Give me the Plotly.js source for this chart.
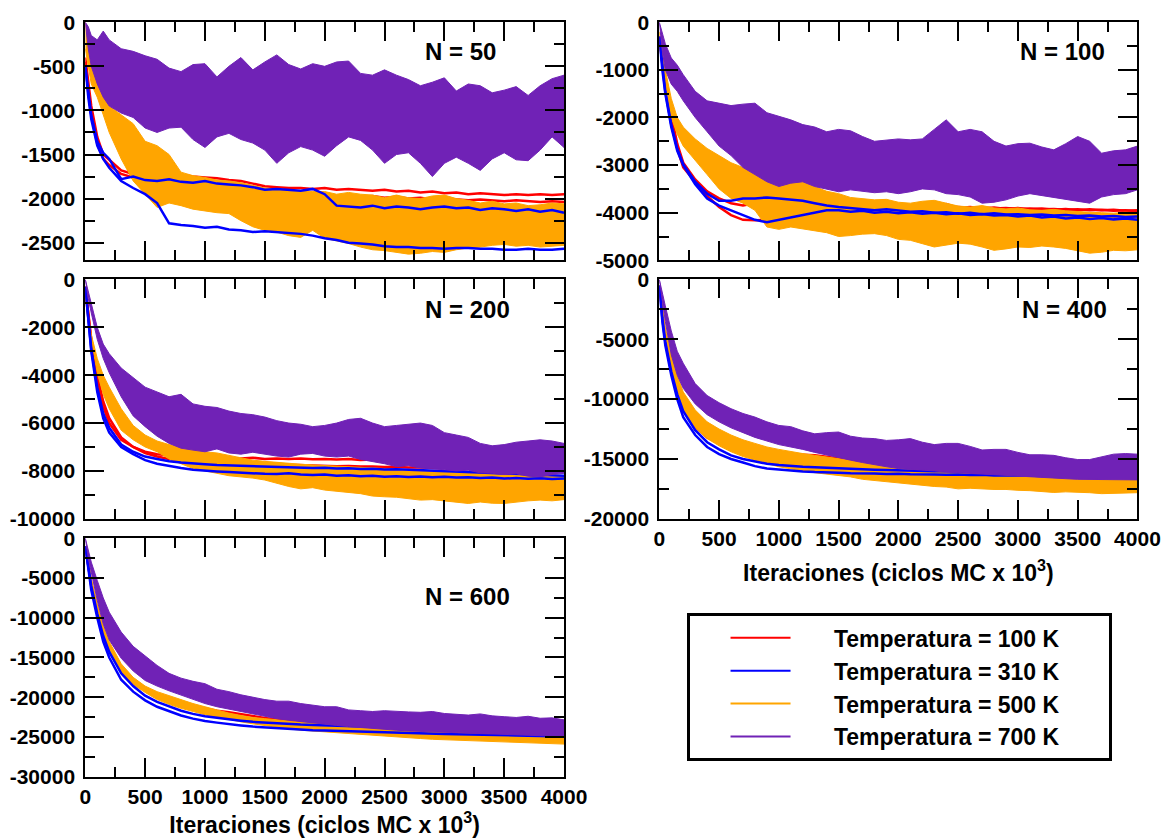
<!DOCTYPE html>
<html>
<head>
<meta charset="utf-8">
<script src="https://cdn.plot.ly/plotly-3.0.1.min.js"></script>
<style>html,body{margin:0;padding:0;background:#fff;}#chart{width:1162px;height:840px;}</style>
</head>
<body>
<div id="chart"></div>
<script>
// ---------- DATA ----------
// Monte Carlo iterations (x 10^3)
const XS = [0,25,50,100,150,200,300,400,500,600,700,800,900,1000,1100,1200,1300,1400,1500,1600,1700,1800,1900,2000,2100,2200,2300,2400,2500,2600,2700,2800,2900,3000,3100,3200,3300,3400,3500,3600,3700,3800,3900,4000];

const TEMPS = ['100 K', '310 K', '500 K', '700 K'];
const PANEL_LABELS = ['N = 50', 'N = 100', 'N = 200', 'N = 400', 'N = 600'];

// Y tick labels of each panel
const Y_TICKS_50  = [0,-500,-1000,-1500,-2000,-2500];
const Y_TICKS_100 = [0,-1000,-2000,-3000,-4000,-5000];
const Y_TICKS_200 = [0,-2000,-4000,-6000,-8000,-10000];
const Y_TICKS_400 = [0,-5000,-10000,-15000,-20000];
const Y_TICKS_600 = [0,-5000,-10000,-15000,-20000,-25000,-30000];

// ---- N = 50 ----
const n50Red1 = [-400,-700,-950,-1300,-1500,-1560,-1680,-1720,-1740,-1700,-1720,-1730,-1750,-1760,-1770,-1790,-1800,-1830,-1860,-1870,-1880,-1880,-1890,-1880,-1900,-1890,-1900,-1910,-1900,-1920,-1910,-1930,-1920,-1940,-1930,-1950,-1940,-1950,-1960,-1950,-1960,-1950,-1960,-1950];
const n50Red2 = [-450,-800,-1050,-1380,-1550,-1620,-1720,-1760,-1780,-1790,-1800,-1820,-1830,-1840,-1850,-1860,-1880,-1900,-1920,-1930,-1940,-1950,-1950,-1960,-1970,-1960,-1980,-1970,-1990,-1980,-2000,-1990,-2010,-2000,-2010,-2020,-2010,-2020,-2030,-2020,-2030,-2040,-2030,-2040];
const n50Blue1 = [-500,-800,-1050,-1350,-1480,-1550,-1780,-1750,-1790,-1800,-1780,-1810,-1820,-1800,-1830,-1840,-1850,-1870,-1900,-1890,-1900,-1910,-1890,-1950,-2080,-2090,-2100,-2080,-2110,-2090,-2100,-2120,-2100,-2090,-2110,-2100,-2130,-2110,-2120,-2140,-2120,-2150,-2130,-2160];
const n50Blue2 = [-500,-850,-1100,-1400,-1550,-1650,-1800,-1880,-1950,-2050,-2280,-2300,-2310,-2330,-2320,-2350,-2360,-2380,-2370,-2380,-2390,-2400,-2420,-2450,-2470,-2500,-2510,-2520,-2540,-2550,-2550,-2560,-2560,-2570,-2560,-2560,-2570,-2570,-2580,-2580,-2570,-2580,-2580,-2570];
const n50OrangeTop = [0,-150,-300,-500,-750,-950,-1050,-1150,-1350,-1400,-1500,-1700,-1740,-1760,-1790,-1800,-1820,-1850,-1880,-1890,-1900,-1910,-1920,-1920,-1950,-1930,-1950,-1960,-1990,-1960,-1990,-2000,-1970,-1960,-2000,-2020,-2050,-2030,-2060,-2050,-2080,-2070,-2050,-2060];
const n50OrangeBot = [-300,-500,-700,-850,-1050,-1250,-1550,-1800,-1950,-2100,-2050,-2080,-2120,-2140,-2160,-2170,-2250,-2320,-2360,-2380,-2420,-2440,-2360,-2450,-2480,-2510,-2550,-2580,-2590,-2610,-2630,-2620,-2600,-2610,-2580,-2560,-2550,-2530,-2520,-2540,-2530,-2550,-2540,-2530];
const n50PurpleTop = [0,-50,-150,-200,-100,-200,-300,-330,-380,-420,-520,-560,-480,-470,-620,-500,-400,-540,-450,-370,-480,-530,-470,-500,-450,-440,-580,-600,-540,-600,-650,-720,-680,-630,-780,-700,-720,-800,-770,-730,-830,-720,-640,-600];
const n50PurpleBot = [0,-300,-500,-700,-850,-950,-1030,-1080,-1200,-1250,-1200,-1190,-1330,-1420,-1300,-1260,-1330,-1370,-1450,-1600,-1480,-1410,-1450,-1520,-1400,-1300,-1340,-1450,-1600,-1500,-1480,-1600,-1750,-1600,-1530,-1600,-1680,-1550,-1480,-1560,-1570,-1450,-1300,-1420];

// ---- N = 100 ----
const n100Red1 = [-300,-900,-1350,-2050,-2650,-3050,-3350,-3650,-3880,-4050,-4150,-4160,-4150,-4100,-4050,-4000,-3980,-3950,-3930,-3900,-3920,-3890,-3910,-3880,-3900,-3870,-3900,-3820,-3900,-3880,-3910,-3890,-3920,-3900,-3930,-3910,-3940,-3920,-3950,-3930,-3950,-3940,-3960,-3950];
const n100Red2 = [-300,-800,-1250,-1950,-2550,-2950,-3300,-3550,-3700,-3800,-3850,-3800,-3750,-3680,-3660,-3650,-3720,-3800,-3830,-3850,-3840,-3860,-3850,-3870,-3860,-3880,-3870,-3890,-3880,-3900,-3890,-3910,-3900,-3920,-3910,-3930,-3920,-3940,-3930,-3950,-3940,-3960,-3950,-3970];
const n100Blue1 = [-300,-1000,-1500,-2200,-2700,-3000,-3400,-3700,-3850,-3950,-4050,-4150,-4200,-4150,-4100,-4050,-4000,-3950,-3950,-3980,-3960,-4000,-3980,-4010,-3990,-4020,-4000,-4030,-4010,-4050,-4030,-4060,-4050,-4080,-4060,-4100,-4080,-4120,-4100,-4130,-4110,-4140,-4120,-4150];
const n100Blue2 = [-300,-950,-1450,-2150,-2650,-2980,-3350,-3600,-3750,-3750,-3700,-3700,-3680,-3700,-3720,-3750,-3800,-3850,-3880,-3900,-3920,-3950,-3930,-3960,-3980,-3970,-4000,-3990,-4020,-4000,-4030,-4010,-4040,-4030,-4050,-4040,-4060,-4050,-4070,-4060,-4080,-4070,-4090,-4080];
const n100OrangeTop = [-200,-700,-1000,-1600,-2000,-2200,-2450,-2650,-2800,-2950,-3050,-3170,-3300,-3380,-3200,-3300,-3450,-3550,-3600,-3680,-3700,-3730,-3720,-3780,-3800,-3760,-3740,-3800,-3860,-3880,-3850,-3900,-3920,-3900,-3940,-3950,-3930,-3960,-3980,-3990,-4000,-4010,-3990,-4010];
const n100OrangeBot = [-500,-1000,-1400,-2000,-2350,-2600,-2900,-3200,-3500,-3700,-3800,-3950,-4300,-4350,-4300,-4330,-4380,-4420,-4500,-4480,-4450,-4440,-4480,-4560,-4580,-4650,-4720,-4680,-4640,-4660,-4720,-4790,-4760,-4720,-4730,-4700,-4720,-4750,-4800,-4850,-4830,-4790,-4800,-4780];
const n100PurpleTop = [0,-200,-450,-750,-900,-1100,-1450,-1650,-1700,-1750,-1720,-1700,-1900,-1980,-2050,-2150,-2200,-2300,-2250,-2280,-2400,-2500,-2480,-2450,-2470,-2450,-2250,-2050,-2300,-2250,-2300,-2500,-2600,-2550,-2540,-2620,-2680,-2550,-2400,-2500,-2750,-2700,-2680,-2600];
const n100PurpleBot = [0,-600,-1000,-1300,-1450,-1650,-2000,-2300,-2600,-2800,-3050,-3200,-3350,-3450,-3380,-3350,-3450,-3500,-3560,-3520,-3550,-3580,-3560,-3600,-3560,-3500,-3520,-3600,-3620,-3670,-3800,-3780,-3730,-3650,-3600,-3640,-3670,-3720,-3760,-3800,-3670,-3620,-3600,-3520];

// ---- N = 200 ----
const n200Red1 = [-300,-1500,-2600,-4200,-5300,-6000,-6700,-7000,-7200,-7300,-7350,-7400,-7420,-7450,-7430,-7460,-7480,-7450,-7500,-7480,-7500,-7480,-7510,-7500,-7520,-7500,-7540,-7520,-7560,-7550,-7580,-7570,-7600,-7600,-7640,-7660,-7700,-7720,-7750,-7760,-7790,-7800,-7820,-7850];
const n200Red2 = [-300,-1400,-2500,-4000,-5100,-5800,-6600,-7000,-7250,-7400,-7500,-7550,-7580,-7600,-7620,-7650,-7680,-7700,-7720,-7700,-7740,-7760,-7750,-7780,-7800,-7790,-7820,-7810,-7840,-7830,-7860,-7850,-7880,-7870,-7900,-7890,-7920,-7910,-7940,-7930,-7960,-7950,-7970,-7980];
const n200Blue1 = [-300,-1800,-3000,-4700,-5800,-6400,-7000,-7300,-7550,-7700,-7800,-7880,-7950,-8000,-8020,-8050,-8080,-8100,-8120,-8130,-8100,-8150,-8170,-8150,-8200,-8180,-8220,-8200,-8240,-8220,-8250,-8230,-8260,-8240,-8280,-8260,-8300,-8280,-8320,-8300,-8330,-8310,-8340,-8320];
const n200Blue2 = [-300,-1700,-2900,-4500,-5600,-6200,-6900,-7200,-7400,-7500,-7600,-7650,-7700,-7720,-7750,-7770,-7790,-7800,-7820,-7830,-7850,-7860,-7880,-7870,-7900,-7890,-7920,-7910,-7940,-7930,-7950,-7960,-7980,-7990,-8010,-8030,-8050,-8070,-8100,-8120,-8140,-8160,-8180,-8200];
const n200OrangeTop = [-300,-1500,-2300,-3300,-4000,-4500,-5400,-6100,-6500,-6750,-6900,-7000,-7100,-7200,-7250,-7350,-7450,-7550,-7600,-7650,-7700,-7720,-7750,-7780,-7800,-7820,-7850,-7880,-7900,-7920,-7950,-7980,-8000,-8030,-8050,-8080,-8100,-8120,-8150,-8170,-8180,-8200,-8220,-8200];
const n200OrangeBot = [-800,-1800,-2600,-3900,-4800,-5400,-6300,-6700,-7000,-7200,-7500,-7700,-7900,-8000,-8100,-8200,-8250,-8300,-8380,-8500,-8650,-8750,-8700,-8800,-8850,-8900,-8950,-9050,-9080,-9100,-9150,-9220,-9200,-9250,-9300,-9360,-9300,-9350,-9360,-9300,-9250,-9220,-9250,-9200];
const n200PurpleTop = [0,-500,-1000,-2000,-2700,-3100,-3700,-4100,-4500,-4700,-4900,-4800,-5200,-5300,-5350,-5500,-5600,-5650,-5750,-5900,-6000,-6050,-6150,-6100,-6000,-5850,-5800,-6000,-6150,-6100,-6050,-6000,-6100,-6400,-6500,-6600,-6850,-6950,-6900,-6800,-6750,-6700,-6750,-6850];
const n200PurpleBot = [0,-800,-1400,-2500,-3300,-3900,-4900,-5700,-6150,-6550,-6850,-7050,-7130,-7200,-7080,-7250,-7300,-7220,-7300,-7380,-7420,-7300,-7270,-7380,-7420,-7380,-7520,-7620,-7700,-7820,-7780,-7880,-7920,-7950,-8000,-7970,-8080,-8100,-8150,-8120,-8220,-8250,-8150,-8100];

// ---- N = 400 ----
const n400Red1 = [-500,-3000,-5000,-7500,-9300,-10800,-12300,-13200,-13700,-14000,-14200,-14350,-14450,-14550,-14600,-14650,-14700,-14820,-14950,-15120,-15300,-15420,-15550,-15680,-15780,-15850,-15900,-15980,-16030,-16080,-16120,-16150,-16200,-16250,-16280,-16320,-16350,-16400,-16420,-16450,-16480,-16500,-16520,-16550];
const n400Blue1 = [-500,-3500,-5500,-8000,-10000,-11500,-13000,-14000,-14600,-15000,-15300,-15600,-15800,-15900,-16000,-16050,-16100,-16100,-16150,-16200,-16180,-16220,-16250,-16230,-16280,-16260,-16300,-16320,-16300,-16350,-16330,-16380,-16360,-16400,-16380,-16420,-16400,-16450,-16430,-16470,-16450,-16500,-16480,-16520];
const n400Blue2 = [-500,-3200,-5200,-7700,-9600,-11000,-12600,-13600,-14200,-14700,-15000,-15200,-15400,-15500,-15600,-15650,-15700,-15750,-15800,-15850,-15870,-15900,-15920,-15950,-15970,-16000,-16020,-16000,-16050,-16030,-16080,-16060,-16100,-16080,-16120,-16100,-16150,-16130,-16180,-16160,-16200,-16180,-16220,-16200];
const n400OrangeTop = [-500,-2500,-4000,-6200,-8000,-9400,-10900,-11900,-12500,-13000,-13400,-13700,-14000,-14200,-14400,-14550,-14700,-14850,-15000,-15150,-15300,-15400,-15500,-15600,-15680,-15750,-15800,-15850,-15900,-15950,-16000,-16050,-16100,-16150,-16200,-16250,-16300,-16350,-16400,-16420,-16450,-16480,-16500,-16520];
const n400OrangeBot = [-1000,-3300,-5000,-7800,-9800,-11000,-12400,-13300,-13900,-14400,-14800,-15100,-15400,-15650,-15850,-16000,-16150,-16300,-16400,-16500,-16700,-16800,-16900,-17000,-17150,-17200,-17300,-17350,-17500,-17450,-17500,-17550,-17550,-17620,-17650,-17700,-17800,-17750,-17800,-17820,-17900,-17830,-17850,-17820];
const n400PurpleTop = [0,-1000,-2200,-4300,-6000,-7000,-8700,-9700,-10300,-10800,-11200,-11500,-11900,-12200,-12300,-12650,-12900,-12800,-12750,-13100,-13250,-13300,-13450,-13400,-13300,-13600,-13800,-13700,-13700,-13950,-14250,-14200,-14200,-14450,-14650,-14650,-14700,-14900,-15050,-15050,-14800,-14600,-14550,-14600];
const n400PurpleBot = [0,-1800,-3500,-6300,-8000,-9100,-10400,-11300,-11900,-12400,-12800,-13200,-13500,-13800,-14000,-14200,-14450,-14700,-14900,-15100,-15300,-15500,-15650,-15800,-15900,-15950,-16000,-16100,-16150,-16200,-16250,-16300,-16350,-16450,-16500,-16550,-16600,-16650,-16700,-16720,-16750,-16700,-16740,-16750];

// ---- N = 600 ----
const n600Red1 = [-1000,-3500,-5800,-9000,-11800,-13800,-16500,-18000,-19000,-19700,-20200,-20700,-21100,-21400,-21700,-21900,-22150,-22400,-22600,-22800,-22950,-23100,-23250,-23400,-23500,-23650,-23750,-23850,-23950,-24050,-24150,-24250,-24300,-24400,-24450,-24500,-24550,-24600,-24650,-24700,-24750,-24800,-24850,-24900];
const n600Blue1 = [-1000,-4000,-6500,-10000,-13000,-15000,-17800,-19300,-20400,-21200,-21800,-22300,-22700,-23000,-23200,-23400,-23550,-23700,-23800,-23900,-24000,-24100,-24150,-24200,-24250,-24300,-24350,-24400,-24450,-24500,-24520,-24550,-24600,-24620,-24650,-24700,-24720,-24750,-24800,-24820,-24850,-24880,-24900,-24950];
const n600Blue2 = [-1000,-3800,-6000,-9500,-12300,-14300,-17000,-18600,-19800,-20600,-21200,-21700,-22100,-22400,-22600,-22800,-22950,-23100,-23200,-23300,-23400,-23450,-23500,-23550,-23600,-23650,-23700,-23750,-23800,-23850,-23900,-23950,-24000,-24050,-24100,-24150,-24200,-24250,-24300,-24350,-24380,-24400,-24420,-24450];
const n600OrangeTop = [-1000,-3000,-5000,-8200,-11000,-13000,-15800,-17500,-18600,-19300,-19800,-20300,-20800,-21200,-21600,-22000,-22300,-22550,-22700,-22850,-23000,-23100,-23250,-23400,-23500,-23650,-23750,-23850,-23950,-24050,-24150,-24250,-24300,-24400,-24450,-24500,-24550,-24600,-24650,-24700,-24750,-24800,-24850,-24900];
const n600OrangeBot = [-1500,-4000,-6200,-9500,-12300,-14300,-17000,-18400,-19400,-20300,-20900,-21400,-21800,-22200,-22500,-22800,-23100,-23350,-23600,-23800,-24000,-24150,-24300,-24400,-24500,-24600,-24700,-24800,-24900,-25000,-25100,-25200,-25300,-25400,-25450,-25500,-25550,-25600,-25650,-25700,-25750,-25800,-25850,-25900];
const n600PurpleTop = [0,-1500,-3000,-5300,-7500,-9300,-11800,-13600,-14800,-16000,-17000,-17600,-18000,-18300,-19000,-19300,-19700,-20000,-20300,-20500,-20500,-20800,-21000,-21200,-21200,-21600,-21700,-21800,-21700,-21800,-21850,-21900,-21800,-22050,-22150,-22250,-22100,-22350,-22450,-22550,-22400,-22650,-22600,-22850];
const n600PurpleBot = [0,-2500,-4500,-7800,-10800,-12800,-15100,-16700,-17900,-18600,-19200,-19800,-20300,-20800,-21200,-21500,-21800,-22100,-22400,-22700,-22900,-23100,-23250,-23400,-23550,-23700,-23850,-23950,-24050,-24150,-24250,-24350,-24400,-24450,-24500,-24550,-24600,-24650,-24700,-24750,-24800,-24850,-24900,-24950];

// ---------- STYLE ----------
const COLORS = {red:'#ff0000', blue:'#0000ff', orange:'#ffa500', purple:'#7022b6'};
const FONT = 'Liberation Sans, Arial, Helvetica, sans-serif';

const PANELS = [
  {label:PANEL_LABELS[0], xa:'x',  ya:'y',  red:[n50Red1,n50Red2],   blue:[n50Blue1,n50Blue2],   orange:[n50OrangeTop,n50OrangeBot],   purple:[n50PurpleTop,n50PurpleBot],
   xd:[0.0734,0.4854], yd:[0.6901,0.9735], ymin:-2700, yt:Y_TICKS_50, ym:250, xlab:false, lx:0.3959, ly:0.9381},
  {label:PANEL_LABELS[1], xa:'x2', ya:'y2', red:[n100Red1,n100Red2], blue:[n100Blue1,n100Blue2], orange:[n100OrangeTop,n100OrangeBot], purple:[n100PurpleTop,n100PurpleBot],
   xd:[0.5674,0.9789], yd:[0.6901,0.9735], ymin:-5000, yt:Y_TICKS_100, ym:500, xlab:false, lx:0.9148, ly:0.9381},
  {label:PANEL_LABELS[2], xa:'x3', ya:'y3', red:[n200Red1,n200Red2], blue:[n200Blue1,n200Blue2], orange:[n200OrangeTop,n200OrangeBot], purple:[n200PurpleTop,n200PurpleBot],
   xd:[0.0734,0.4854], yd:[0.3824,0.6673], ymin:-10000, yt:Y_TICKS_200, ym:1000, xlab:false, lx:0.4019, ly:0.6321},
  {label:PANEL_LABELS[3], xa:'x4', ya:'y4', red:[n400Red1],          blue:[n400Blue1,n400Blue2], orange:[n400OrangeTop,n400OrangeBot], purple:[n400PurpleTop,n400PurpleBot],
   xd:[0.5674,0.9789], yd:[0.3824,0.6673], ymin:-20000, yt:Y_TICKS_400, ym:2500, xlab:true, standoff:16, lx:0.9157, ly:0.6310},
  {label:PANEL_LABELS[4], xa:'x5', ya:'y5', red:[n600Red1],          blue:[n600Blue1,n600Blue2], orange:[n600OrangeTop,n600OrangeBot], purple:[n600PurpleTop,n600PurpleBot],
   xd:[0.0734,0.4854], yd:[0.0754,0.3592], ymin:-30000, yt:Y_TICKS_600, ym:2500, xlab:true, standoff:8, lx:0.4019, ly:0.2893}
];

function lineTrace(p, ys, color) {
  return {x:XS, y:ys, xaxis:p.xa, yaxis:p.ya, mode:'lines', line:{color:color, width:2.5},
          showlegend:false, hoverinfo:'skip'};
}
function bandTrace(p, pair, color) {
  const top = pair[0], bot = pair[1];
  return {x:XS.concat(XS.slice().reverse()), y:top.concat(bot.slice().reverse()),
          xaxis:p.xa, yaxis:p.ya, mode:'lines', line:{color:color, width:1},
          fill:'toself', fillcolor:color, showlegend:false, hoverinfo:'skip'};
}

const traces = [];
PANELS.forEach(p => {
  p.red.forEach(r => traces.push(lineTrace(p, r, COLORS.red)));
  traces.push(bandTrace(p, p.orange, COLORS.orange));
  p.blue.forEach(b => traces.push(lineTrace(p, b, COLORS.blue)));
  traces.push(bandTrace(p, p.purple, COLORS.purple));
});
// legend entries
[COLORS.red, COLORS.blue, COLORS.orange, COLORS.purple].forEach((c, i) => {
  traces.push({x:[null], y:[null], xaxis:'x', yaxis:'y', mode:'lines', line:{color:c, width:2},
               name:'\u00a0'.repeat(6) + 'Temperatura = ' + TEMPS[i] + '\u00a0'.repeat(7), showlegend:true, hoverinfo:'skip'});
});

const tickFont = {family:FONT, size:21, color:'#000', weight:'bold'};
const layout = {
  width:1162, height:840, margin:{l:0, r:0, t:0, b:0},
  paper_bgcolor:'#fff', plot_bgcolor:'#fff',
  font:{family:FONT, color:'#000', weight:'bold'},
  showlegend:true,
  legend:{x:0.5912, y:0.2699, xanchor:'left', yanchor:'top', bordercolor:'#000', borderwidth:3,
          itemwidth:60,
          title:{text:'\u00a0'.repeat(4), side:'left', font:{family:FONT, size:23, color:'#000'}},
          bgcolor:'#fff', font:{family:FONT, size:23, color:'#000', weight:'bold'}},
  annotations:[]
};
PANELS.forEach((p, i) => {
  const n = i === 0 ? '' : String(i + 1);
  const common = {showline:true, linecolor:'#000', linewidth:2, mirror:'allticks', ticks:'inside',
                  ticklen:19, tickwidth:2, tickcolor:'#000', showgrid:false, zeroline:false,
                  fixedrange:true, tickfont:tickFont};
  layout['xaxis' + n] = Object.assign({}, common, {
    domain:p.xd, anchor:'y' + n, range:[0, 4000], tickmode:'linear', tick0:0, dtick:500,
    showticklabels:p.xlab,
    minor:{ticks:'inside', ticklen:10, tickwidth:2, tickcolor:'#000', tickmode:'linear', tick0:0, dtick:250, showgrid:false}
  });
  if (p.xlab) {
    layout['xaxis' + n].title = {text:'Iteraciones (ciclos MC x 10<sup>3</sup>)', standoff:p.standoff,
                                 font:{family:FONT, size:23, color:'#000', weight:'bold'}};
  }
  layout['yaxis' + n] = Object.assign({}, common, {
    domain:p.yd, anchor:'x' + n, range:[p.ymin, 0], tickmode:'array',
    tickvals:p.yt, ticktext:p.yt.map(v => String(v)), ticklabelstandoff:4,
    minor:{ticks:'inside', ticklen:10, tickwidth:2, tickcolor:'#000', tickmode:'linear', tick0:0, dtick:p.ym, showgrid:false}
  });
  layout.annotations.push({text:p.label, xref:'paper', yref:'paper', x:p.lx, y:p.ly,
    xanchor:'center', yanchor:'middle', showarrow:false,
    font:{family:FONT, size:24, color:'#000', weight:'bold'}});
});

Plotly.newPlot('chart', traces, layout, {displayModeBar:false, staticPlot:true});
</script>
</body>
</html>
